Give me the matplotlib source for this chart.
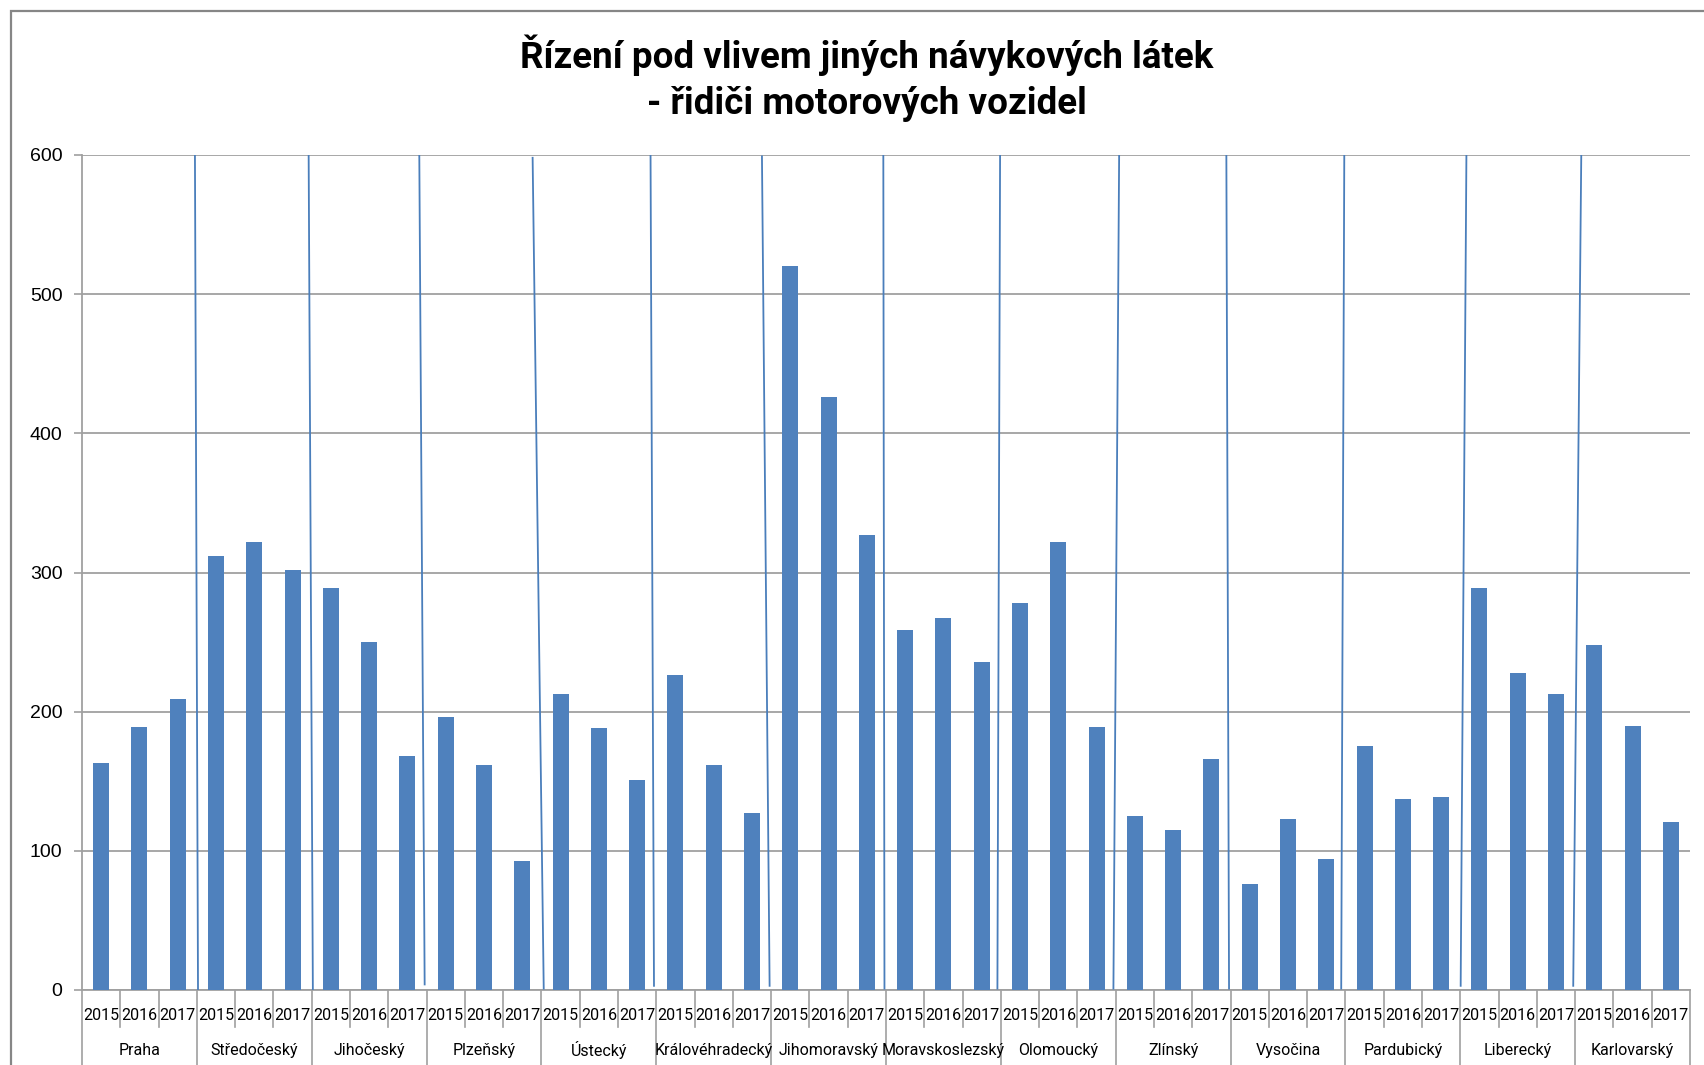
import matplotlib
matplotlib.use('Agg')
import matplotlib.pyplot as plt
from matplotlib.patches import Rectangle
import matplotlib.transforms as mtransforms

# data
regions = ['Praha', 'Středočeský', 'Jihočeský', 'Plzeňský', 'Ústecký',
           'Královéhradecký', 'Jihomoravský', 'Moravskoslezský', 'Olomoucký',
           'Zlínský', 'Vysočina', 'Pardubický', 'Liberecký', 'Karlovarský']
years = ['2015', '2016', '2017']
values = [163, 189, 209,
          312, 322, 302,
          289, 250, 168,
          196, 162, 93,
          213, 188, 151,
          226, 162, 127,
          520, 426, 327,
          259, 267, 236,
          278, 322, 189,
          125, 115, 166,
          76, 123, 94,
          175, 137, 139,
          289, 228, 213,
          248, 190, 121]

# hand drawn separator lines between regions (slightly tilted)
sep_top_shift = [-0.05, -0.08, -0.19, -0.23, -0.15, -0.24, -0.07, -0.02, 0.09, -0.11, -0.03, 0.16, 0.16]
sep_bot_shift = [0.03, 0.03, -0.05, 0.06, -0.06, -0.04, -0.04, -0.09, -0.06, -0.04, -0.11, 0.01, -0.05]
sep_top = [600, 600, 600, 598, 600, 599, 600, 601, 602, 600, 600, 600, 600]
sep_bot = [0, 0, 4, 1, 3, 3, 1, 1, 1, 1, 1, 3, 3]

W, H = 1704, 1065
fig = plt.figure(figsize=(W / 100, H / 100), dpi=100)
ax = fig.add_axes([82 / W, 1 - 990 / H, (1690 - 82) / W, (990 - 155) / H])

narrow = ['Roboto', 'DejaVu Sans']
blue = '#4F81BD'
grey = '#A0A0A0'

n_years = len(years)
x = list(range(len(values)))
ax.bar(x, values, width=0.42, color=blue, zorder=3)

ax.set_xlim(-0.5, len(values) - 0.5)
ax.set_ylim(0, 600)
ax.set_yticks(range(0, 601, 100))
ax.yaxis.grid(True, color=grey, lw=1.3, zorder=0)
ax.tick_params(axis='y', direction='out', length=6, width=1.2, color=grey, pad=8,
               labelsize=14, labelcolor='black')
for lab in ax.get_yticklabels():
    lab.set_family('Liberation Sans')
ax.set_xticks([])
for s in ['top', 'right']:
    ax.spines[s].set_visible(False)
for s in ['left', 'bottom']:
    ax.spines[s].set_color(grey)
    ax.spines[s].set_linewidth(1.3)

# separators between regions
for k in range(1, len(regions)):
    b = k * n_years - 0.5
    ax.plot([b + sep_top_shift[k - 1], b + sep_bot_shift[k - 1]],
            [sep_top[k - 1], sep_bot[k - 1]], color='#4A7EBB', lw=1.3, zorder=4)

# two level category axis
trans = mtransforms.blended_transform_factory(ax.transData, ax.transAxes)
for i, v in enumerate(values):
    ax.text(i, -0.030, years[i % n_years], transform=trans, ha='center', va='center',
            fontsize=11.5, family=narrow)
for i in range(len(values) + 1):
    low = -0.092 if i % n_years == 0 else -0.044
    ax.plot([i - 0.5, i - 0.5], [0, low], transform=trans, color=grey, lw=1.2,
            clip_on=False)
for g, name in enumerate(regions):
    ax.text(g * n_years + 1, -0.072, name, transform=trans, ha='center', va='center',
            fontsize=11.5, family=narrow)

fig.text(867 / W, 1 - 78.5 / H, 'Řízení pod vlivem jiných návykových látek\n- řidiči motorových vozidel',
         ha='center', va='center', fontsize=26.5, fontweight='bold', family=narrow,
         linespacing=1.35)

# chart frame
fig.add_artist(Rectangle((11 / W, -0.1), 1.2, 1.1 - 11 / H, transform=fig.transFigure,
                         fill=False, edgecolor='#868686', lw=1.6))

fig.savefig('out.png', dpi=100)
